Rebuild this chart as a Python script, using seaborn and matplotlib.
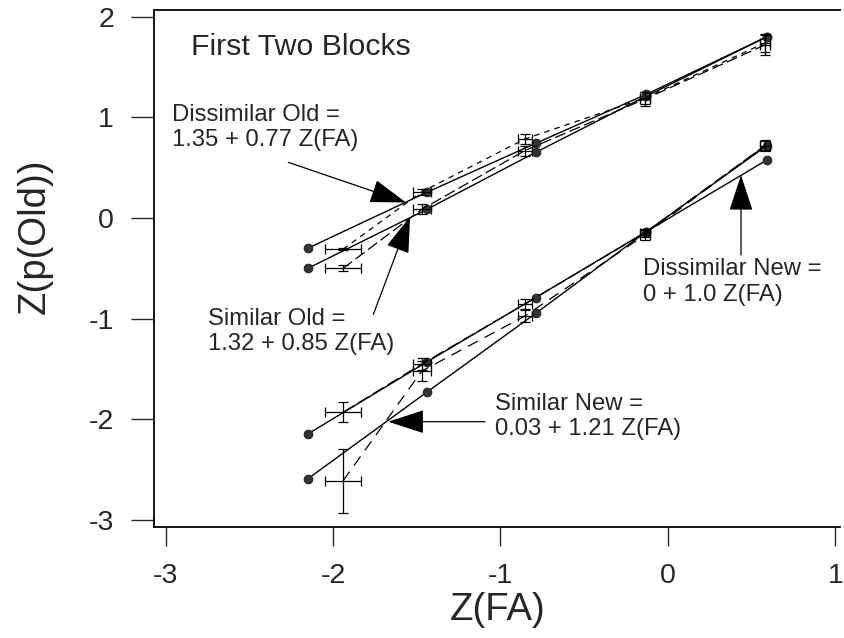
import matplotlib
matplotlib.use("Agg")
import matplotlib.pyplot as plt
import seaborn as sns
import pandas as pd

# ---- data -------------------------------------------------------------
conditions = ["Dissimilar Old", "Similar Old", "Dissimilar New", "Similar New"]

# fitted (model) ROC points: filled dots joined by solid lines
fit_x = [-2.15, -1.44, -0.79, -0.13, 0.59]
fit_dis_old = [-0.30, 0.255, 0.742, 1.228, 1.80]
fit_sim_old = [-0.50, 0.086, 0.652, 1.21, 1.80]
fit_dis_new = [-2.145, -1.43, -0.79, -0.136, 0.576]
fit_sim_new = [-2.59, -1.73, -0.947, -0.136, 0.718]

# observed ROC points: error crosses joined by dashed lines
obs_x = [-1.94, -1.47, -0.854, -0.14, 0.58]
obs_xerr = [0.105, 0.055, 0.04, 0.03, 0.03]
obs_dis_old = [-0.31, 0.26, 0.785, 1.19, 1.74]
obs_dis_old_err = [0.01, 0.03, 0.045, 0.06, 0.09]
obs_sim_old = [-0.50, 0.086, 0.67, 1.18, 1.72]
obs_sim_old_err = [0.03, 0.05, 0.05, 0.07, 0.10]
obs_dis_new = [-1.93, -1.45, -0.854, -0.15, 0.72]
obs_dis_new_err = [0.10, 0.06, 0.05, 0.04, 0.04]
obs_sim_new = [-2.61, -1.52, -0.973, -0.17, 0.72]
obs_sim_new_err = [0.32, 0.10, 0.06, 0.05, 0.05]

equations = ["1.35 + 0.77 Z(FA)", "1.32 + 0.85 Z(FA)", "0 + 1.0 Z(FA)", "0.03 + 1.21 Z(FA)"]
title_text = "First Two Blocks"
x_ticks = [-3, -2, -1, 0, 1]
y_ticks = [-3, -2, -1, 0, 1, 2]

# ---- style -------------------------------------------------------------
sns.set_style("ticks")
plt.rcParams["font.family"] = ["Liberation Sans", "DejaVu Sans"]

fig = plt.figure(figsize=(8.44, 6.38), dpi=100)
ax = fig.add_axes([154.3 / 844, 1 - 526.7 / 638, (840 - 154.3) / 844, (526.7 - 10) / 638])

fit_series = [fit_dis_old, fit_sim_old, fit_dis_new, fit_sim_new]
obs_series = [obs_dis_old, obs_sim_old, obs_dis_new, obs_sim_new]
obs_errs = [obs_dis_old_err, obs_sim_old_err, obs_dis_new_err, obs_sim_new_err]
dashes = [(4.5, 4.0), (9, 3.5), (10, 4), (9, 6)]

for name, ys in zip(conditions, fit_series):
    df = pd.DataFrame({"x": fit_x, "y": ys})
    sns.lineplot(data=df, x="x", y="y", ax=ax, color="black", lw=1.0,
                 marker="o", markersize=6.2, markerfacecolor="#333333",
                 markeredgecolor="#222222", sort=False)

for name, ys, yerr, dsh in zip(conditions, obs_series, obs_errs, dashes):
    df = pd.DataFrame({"x": obs_x, "y": ys})
    sns.lineplot(data=df, x="x", y="y", ax=ax, color="black", lw=0.9,
                 dashes=False, sort=False).lines[-1].set_dashes(dsh)
    ax.errorbar(obs_x, ys, xerr=obs_xerr, yerr=yerr, fmt="none",
                ecolor="black", elinewidth=0.9, capsize=3.8, capthick=0.9)

ax.set_xlim(-3.067, 1.027)
ax.set_ylim(-3.066, 2.066)
ax.set_xticks(x_ticks)
ax.set_yticks(y_ticks)
ax.set_xticklabels([str(t) for t in x_ticks])
ax.set_yticklabels([str(t) for t in y_ticks])
ax.tick_params(axis="y", length=16.5, width=1.0, pad=12.5, labelsize=20.5, direction="out")
ax.tick_params(axis="x", length=13.5, width=1.0, pad=12.5, labelsize=20.5, direction="out")
for side in ["left", "bottom", "top"]:
    ax.spines[side].set_linewidth(1.3)
    ax.spines[side].set_color("black")
ax.spines["right"].set_visible(False)

ax.set_xlabel("Z(FA)", fontsize=27.5, labelpad=2)
ax.set_ylabel("Z(p(Old))", fontsize=27.5)
ax.yaxis.set_label_coords(-0.148, 0.5626)

ax.text(-2.845, 1.619, title_text, fontsize=21.8, va="baseline", ha="left")

txt_kw = dict(fontsize=17.2, ha="left", va="top", linespacing=1.2)
ax.text(-2.963, 1.132, f"{conditions[0]} =\n{equations[0]}", **txt_kw)
ax.text(-2.744, -0.894, f"{conditions[1]} =\n{equations[1]}", **txt_kw)
ax.text(-1.033, -1.738, f"{conditions[3]} =\n{equations[3]}", **txt_kw)
ax.text(-0.147, -0.40, f"{conditions[2]} =\n{equations[2]}", **txt_kw)

arrow_kw = dict(arrowstyle="-|>,head_length=2.3,head_width=0.75", mutation_scale=10,
                color="black", lw=0.9, shrinkA=0, shrinkB=0)
arrows = [((-2.267, 0.553), (-1.564, 0.154)),
          ((-1.759, -0.956), (-1.540, 0.013)),
          ((-1.093, -2.023), (-1.670, -2.023)),
          ((0.436, -0.367), (0.436, 0.427))]
for tail, tip in arrows:
    ax.annotate("", xy=tip, xytext=tail, arrowprops=arrow_kw)

fig.savefig("out.png", dpi=100)
